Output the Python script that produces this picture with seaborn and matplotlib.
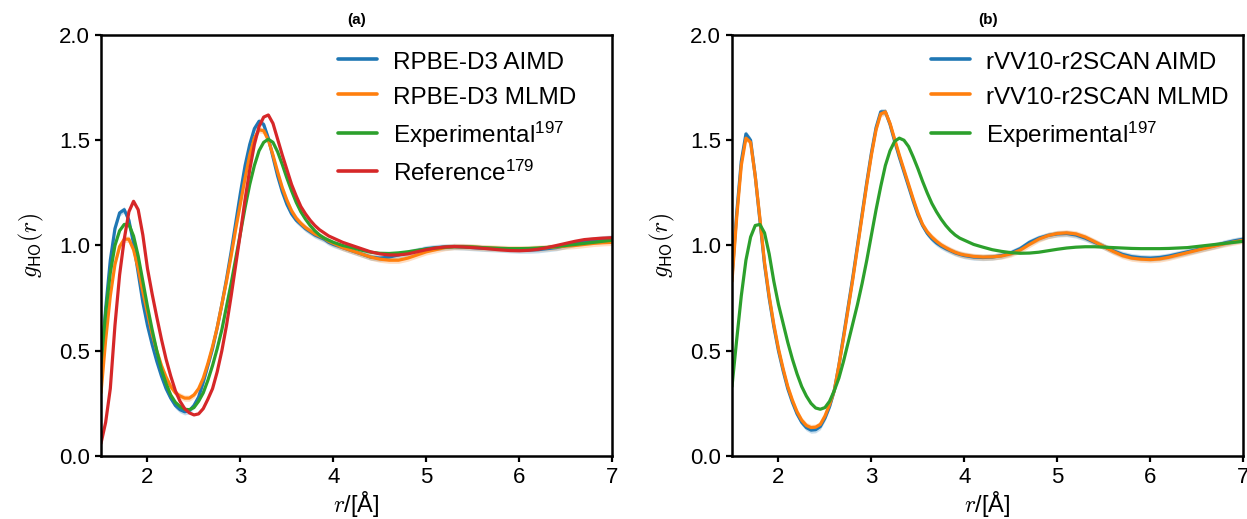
import numpy as np
import pandas as pd
import matplotlib
matplotlib.use("Agg")
import matplotlib.pyplot as plt
import seaborn as sns

# ---------------- data ----------------
r = [1.50, 1.55, 1.60, 1.65, 1.70, 1.75, 1.80, 1.85, 1.90, 1.95,
     2.00, 2.05, 2.10, 2.15, 2.20, 2.25, 2.30, 2.35, 2.40, 2.45,
     2.50, 2.55, 2.60, 2.65, 2.70, 2.75, 2.80, 2.85, 2.90, 2.95,
     3.00, 3.05, 3.10, 3.15, 3.20, 3.25, 3.30, 3.35, 3.40, 3.45,
     3.50, 3.55, 3.60, 3.65, 3.70, 3.75, 3.80, 3.85, 3.90, 3.95,
     4.00, 4.1, 4.2, 4.3, 4.4, 4.5, 4.6, 4.7, 4.8, 4.9,
     5.0, 5.1, 5.2, 5.3, 5.4, 5.5, 5.6, 5.7, 5.8, 5.9,
     6.0, 6.1, 6.2, 6.3, 6.4, 6.5, 6.6, 6.7, 6.8, 6.9, 7.0]

# panel (a)
rpbe_aimd = [0.42, 0.70, 0.93, 1.08, 1.155, 1.17, 1.12, 1.01, 0.87, 0.73,
             0.62, 0.53, 0.45, 0.38, 0.32, 0.275, 0.24, 0.22, 0.21, 0.215,
             0.24, 0.28, 0.35, 0.43, 0.51, 0.61, 0.72, 0.84, 0.97, 1.11,
             1.25, 1.38, 1.48, 1.555, 1.59, 1.575, 1.51, 1.42, 1.33, 1.255,
             1.195, 1.15, 1.12, 1.10, 1.08, 1.065, 1.05, 1.04, 1.03, 1.015,
             1.005, 0.99, 0.975, 0.96, 0.945, 0.94, 0.945, 0.955, 0.965, 0.975,
             0.985, 0.99, 0.993, 0.995, 0.993, 0.99, 0.987, 0.985, 0.983, 0.98,
             0.978, 0.978, 0.98, 0.985, 0.99, 1.0, 1.01, 1.02, 1.027, 1.032, 1.035]
rpbe_mlmd = [0.30, 0.55, 0.76, 0.91, 0.995, 1.03, 1.03, 0.98, 0.89, 0.78,
             0.68, 0.58, 0.50, 0.43, 0.375, 0.33, 0.30, 0.285, 0.275, 0.275,
             0.29, 0.32, 0.37, 0.44, 0.52, 0.61, 0.72, 0.83, 0.95, 1.08,
             1.20, 1.32, 1.43, 1.51, 1.55, 1.545, 1.50, 1.43, 1.35, 1.275,
             1.215, 1.165, 1.13, 1.105, 1.085, 1.07, 1.055, 1.045, 1.035, 1.02,
             1.01, 0.99, 0.975, 0.96, 0.945, 0.935, 0.93, 0.93, 0.94, 0.955,
             0.97, 0.98, 0.99, 0.995, 0.995, 0.993, 0.99, 0.988, 0.986, 0.985,
             0.985, 0.985, 0.987, 0.99, 0.993, 0.997, 1.0, 1.005, 1.01, 1.013, 1.015]
exp_a = [0.44, 0.68, 0.87, 1.00, 1.07, 1.10, 1.10, 1.045, 0.95, 0.83,
         0.71, 0.60, 0.50, 0.41, 0.345, 0.29, 0.255, 0.235, 0.222, 0.22,
         0.23, 0.26, 0.30, 0.36, 0.43, 0.51, 0.60, 0.71, 0.82, 0.94,
         1.06, 1.18, 1.29, 1.38, 1.45, 1.49, 1.505, 1.49, 1.445, 1.385,
         1.32, 1.26, 1.205, 1.16, 1.125, 1.095, 1.07, 1.05, 1.035, 1.025,
         1.015, 1.0, 0.99, 0.978, 0.968, 0.963, 0.962, 0.965, 0.97, 0.977,
         0.983, 0.988, 0.992, 0.994, 0.994, 0.993, 0.99, 0.988, 0.986, 0.985,
         0.985, 0.986, 0.988, 0.991, 0.995, 1.0, 1.005, 1.01, 1.015, 1.02, 1.025]
reference = [0.06, 0.16, 0.32, 0.62, 0.86, 1.03, 1.16, 1.21, 1.17, 1.05,
             0.89, 0.77, 0.66, 0.555, 0.46, 0.38, 0.31, 0.26, 0.225, 0.205,
             0.195, 0.20, 0.225, 0.27, 0.32, 0.40, 0.50, 0.62, 0.76, 0.91,
             1.06, 1.22, 1.36, 1.48, 1.565, 1.61, 1.62, 1.58, 1.505, 1.43,
             1.36, 1.29, 1.235, 1.185, 1.15, 1.12, 1.095, 1.075, 1.06, 1.045,
             1.035, 1.015, 1.0, 0.985, 0.97, 0.96, 0.955, 0.955, 0.96, 0.97,
             0.98, 0.988, 0.993, 0.995, 0.993, 0.99, 0.987, 0.983, 0.979, 0.976,
             0.975, 0.977, 0.982, 0.99, 1.0, 1.01, 1.02, 1.028, 1.032, 1.035, 1.037]

# panel (b)
scan_aimd = [0.85, 1.15, 1.40, 1.53, 1.50, 1.33, 1.12, 0.91, 0.75, 0.615,
             0.50, 0.405, 0.32, 0.255, 0.20, 0.16, 0.135, 0.123, 0.125, 0.14,
             0.18, 0.235, 0.31, 0.43, 0.57, 0.71, 0.85, 1.00, 1.15, 1.30,
             1.44, 1.56, 1.635, 1.635, 1.575, 1.495, 1.42, 1.35, 1.28, 1.21,
             1.145, 1.095, 1.058, 1.032, 1.012, 0.997, 0.985, 0.975, 0.965, 0.958,
             0.952, 0.945, 0.943, 0.945, 0.952, 0.965, 0.985, 1.015, 1.035, 1.048,
             1.055, 1.057, 1.05, 1.035, 1.015, 0.995, 0.975, 0.958, 0.947, 0.942,
             0.94, 0.943, 0.95, 0.96, 0.97, 0.98, 0.99, 1.0, 1.012, 1.022, 1.03]
scan_mlmd = [0.83, 1.13, 1.38, 1.51, 1.49, 1.33, 1.13, 0.92, 0.76, 0.625,
             0.51, 0.415, 0.33, 0.265, 0.21, 0.17, 0.145, 0.135, 0.137, 0.15,
             0.19, 0.245, 0.31, 0.43, 0.56, 0.70, 0.84, 0.99, 1.14, 1.29,
             1.43, 1.55, 1.625, 1.635, 1.58, 1.505, 1.43, 1.36, 1.29, 1.22,
             1.155, 1.10, 1.065, 1.04, 1.02, 1.003, 0.99, 0.978, 0.968, 0.96,
             0.955, 0.948, 0.945, 0.946, 0.95, 0.96, 0.978, 1.005, 1.03, 1.047,
             1.057, 1.06, 1.055, 1.04, 1.018, 0.995, 0.972, 0.952, 0.94, 0.935,
             0.933, 0.936, 0.944, 0.955, 0.966, 0.977, 0.988, 0.998, 1.008, 1.017, 1.025]
exp_b = [0.33, 0.55, 0.76, 0.93, 1.04, 1.095, 1.10, 1.06, 0.96, 0.83,
         0.72, 0.63, 0.54, 0.46, 0.39, 0.33, 0.285, 0.25, 0.228, 0.222,
         0.23, 0.26, 0.31, 0.37, 0.45, 0.54, 0.63, 0.72, 0.82, 0.93,
         1.05, 1.17, 1.28, 1.38, 1.45, 1.495, 1.51, 1.50, 1.47, 1.42,
         1.365, 1.305, 1.25, 1.20, 1.16, 1.125, 1.095, 1.07, 1.05, 1.035,
         1.025, 1.005, 0.992, 0.98, 0.972, 0.966, 0.963, 0.964, 0.968, 0.975,
         0.982, 0.988, 0.992, 0.994, 0.994, 0.992, 0.99, 0.988, 0.986, 0.985,
         0.985, 0.985, 0.986, 0.988, 0.99, 0.995, 1.0, 1.005, 1.01, 1.015, 1.02]

labels_a = ["RPBE-D3 AIMD", "RPBE-D3 MLMD",
            r"Experimental$\mathregular{^{197}}$", r"Reference$\mathregular{^{179}}$"]
labels_b = ["rVV10-r2SCAN AIMD", "rVV10-r2SCAN MLMD",
            r"Experimental$\mathregular{^{197}}$"]
titles = ["(a)", "(b)"]
colors = ["#1f77b4", "#ff7f0e", "#2ca02c", "#d62728"]

# ---------------- style ----------------
sns.set_style("ticks", {"axes.edgecolor": "black", "xtick.color": "black",
                        "ytick.color": "black", "text.color": "black",
                        "axes.labelcolor": "black"})
plt.rcParams["font.family"] = ["Liberation Sans", "DejaVu Sans"]
plt.rcParams["mathtext.fontset"] = "cm"
plt.rcParams["xtick.major.width"] = 1.6
plt.rcParams["ytick.major.width"] = 1.6
plt.rcParams["xtick.major.size"] = 4.5
plt.rcParams["ytick.major.size"] = 4.5

fig = plt.figure(figsize=(12.47, 5.19), dpi=100)
ax_a = fig.add_axes([0.081, 0.1214, 0.410, 0.8112])
ax_b = fig.add_axes([0.587, 0.1214, 0.410, 0.8112])


def make_df(series, labels):
    frames = []
    for vals, lab in zip(series, labels):
        frames.append(pd.DataFrame({"r": r, "g": vals, "series": lab}))
    return pd.concat(frames, ignore_index=True)


panels = [
    (ax_a, [rpbe_aimd, rpbe_mlmd, exp_a, reference], labels_a, 0.929),
    (ax_b, [scan_aimd, scan_mlmd, exp_b], labels_b, 0.971),
]

for i, (ax, series, labels, leg_right) in enumerate(panels):
    df = make_df(series, labels)
    for vals, c in zip(series[:2], colors[:2]):
        v = np.array(vals)
        ax.fill_between(r, v - 0.015, v + 0.015, color=c, alpha=0.25, lw=0)
    sns.lineplot(data=df, x="r", y="g", hue="series", hue_order=labels,
                 palette=colors[:len(labels)], linewidth=2.3, ax=ax,
                 legend=True, sort=False)
    ax.set_xlim(1.5, 7)
    ax.set_ylim(0, 2.0)
    ax.set_xticks([2, 3, 4, 5, 6, 7])
    ax.set_yticks([0.0, 0.5, 1.0, 1.5, 2.0])
    ax.set_yticklabels(["0.0", "0.5", "1.0", "1.5", "2.0"])
    ax.tick_params(labelsize=16, colors="black")
    ax.set_xlabel(r"$r$/[Å]", fontsize=17, labelpad=1)
    ax.set_ylabel(r"$g_{\mathsf{HO}}(r)$", fontsize=17, labelpad=9)
    ax.set_title(titles[i], fontsize=11, fontweight="bold", pad=8)
    for s in ax.spines.values():
        s.set_linewidth(1.8)
        s.set_color("black")
    ax.legend(loc="upper right", bbox_to_anchor=(leg_right, 0.965),
              frameon=False, fontsize=17.5, handlelength=1.6,
              handleheight=1.0, labelspacing=0.44, borderaxespad=0.0,
              handletextpad=0.66, borderpad=0.0)
    for line in ax.get_legend().get_lines():
        line.set_linewidth(2.6)

fig.savefig("out.png", dpi=100)
